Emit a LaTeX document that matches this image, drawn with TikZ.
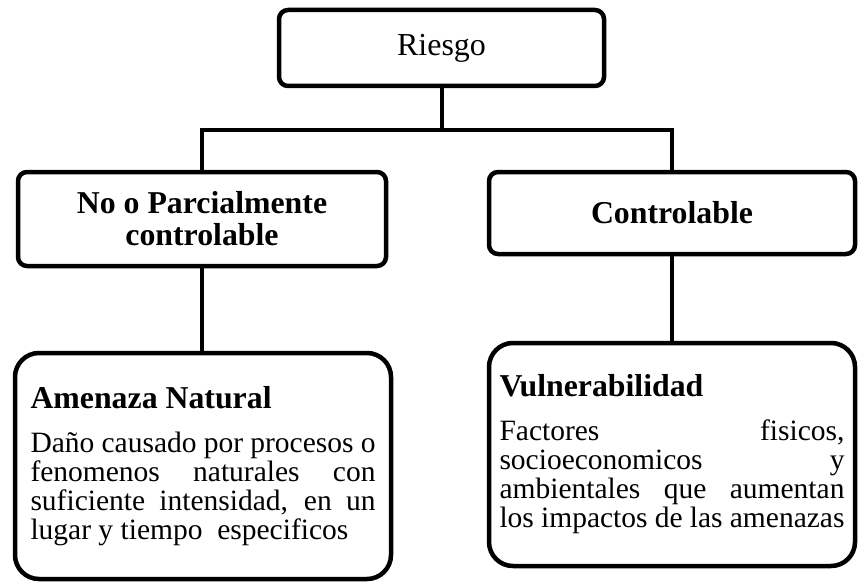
\documentclass[tikz,border=0pt]{standalone}
\usepackage{fontspec}
\setmainfont{Liberation Serif}
\begin{document}
\begin{tikzpicture}[x=1pt, y=-1pt,
    caja/.style={draw, line width=4.5pt, rounded corners=9pt, inner sep=0pt, align=center},
    cajagrande/.style={draw, line width=4.5pt, rounded corners=24pt, inner sep=0pt,
        text width=345pt, align=justify, font=\fontsize{29.5}{29}\selectfont},
    linea/.style={line width=4pt}]
  \useasboundingbox (0,0) rectangle (858,583);

  \node[caja, minimum width=325pt, minimum height=76pt, font=\fontsize{32}{36}\selectfont] (riesgo) at (441.5,48) {Riesgo};

  \node[caja, minimum width=368pt, minimum height=94pt, font=\fontsize{31.8}{32}\bfseries\selectfont] (parcial) at (202,219) {No o Parcialmente\\controlable};
  \node[caja, minimum width=366pt, minimum height=82pt, font=\fontsize{31.8}{32}\bfseries\selectfont] (control) at (672,213) {Controlable};

  \node[cajagrande, minimum width=376pt, minimum height=226pt] (amenaza) at (203,466)
    {{\fontsize{31.8}{36}\bfseries\selectfont Amenaza Natural\par}\vspace{15pt}
     Daño causado por procesos o\linebreak fenomenos naturales con\linebreak
     suficiente intensidad, en un\linebreak lugar y tiempo~ especificos};
  \node[cajagrande, minimum width=366pt, minimum height=223pt] (vulnera) at (672,454.5)
    {{\fontsize{31.8}{36}\bfseries\selectfont Vulnerabilidad\par}\vspace{15pt}
     Factores fisicos,\linebreak socioeconomicos y\linebreak
     ambientales que aumentan\linebreak los impactos de las amenazas};

  \coordinate (reparto) at (441.5,130);
  \draw[linea] (riesgo.south) -- (reparto);
  \draw[linea] (parcial.north) |- (reparto) -| (control.north);
  \draw[linea] (parcial.south) -- (parcial.south |- amenaza.north);
  \draw[linea] (control.south) -- (control.south |- vulnera.north);
\end{tikzpicture}
\end{document}
